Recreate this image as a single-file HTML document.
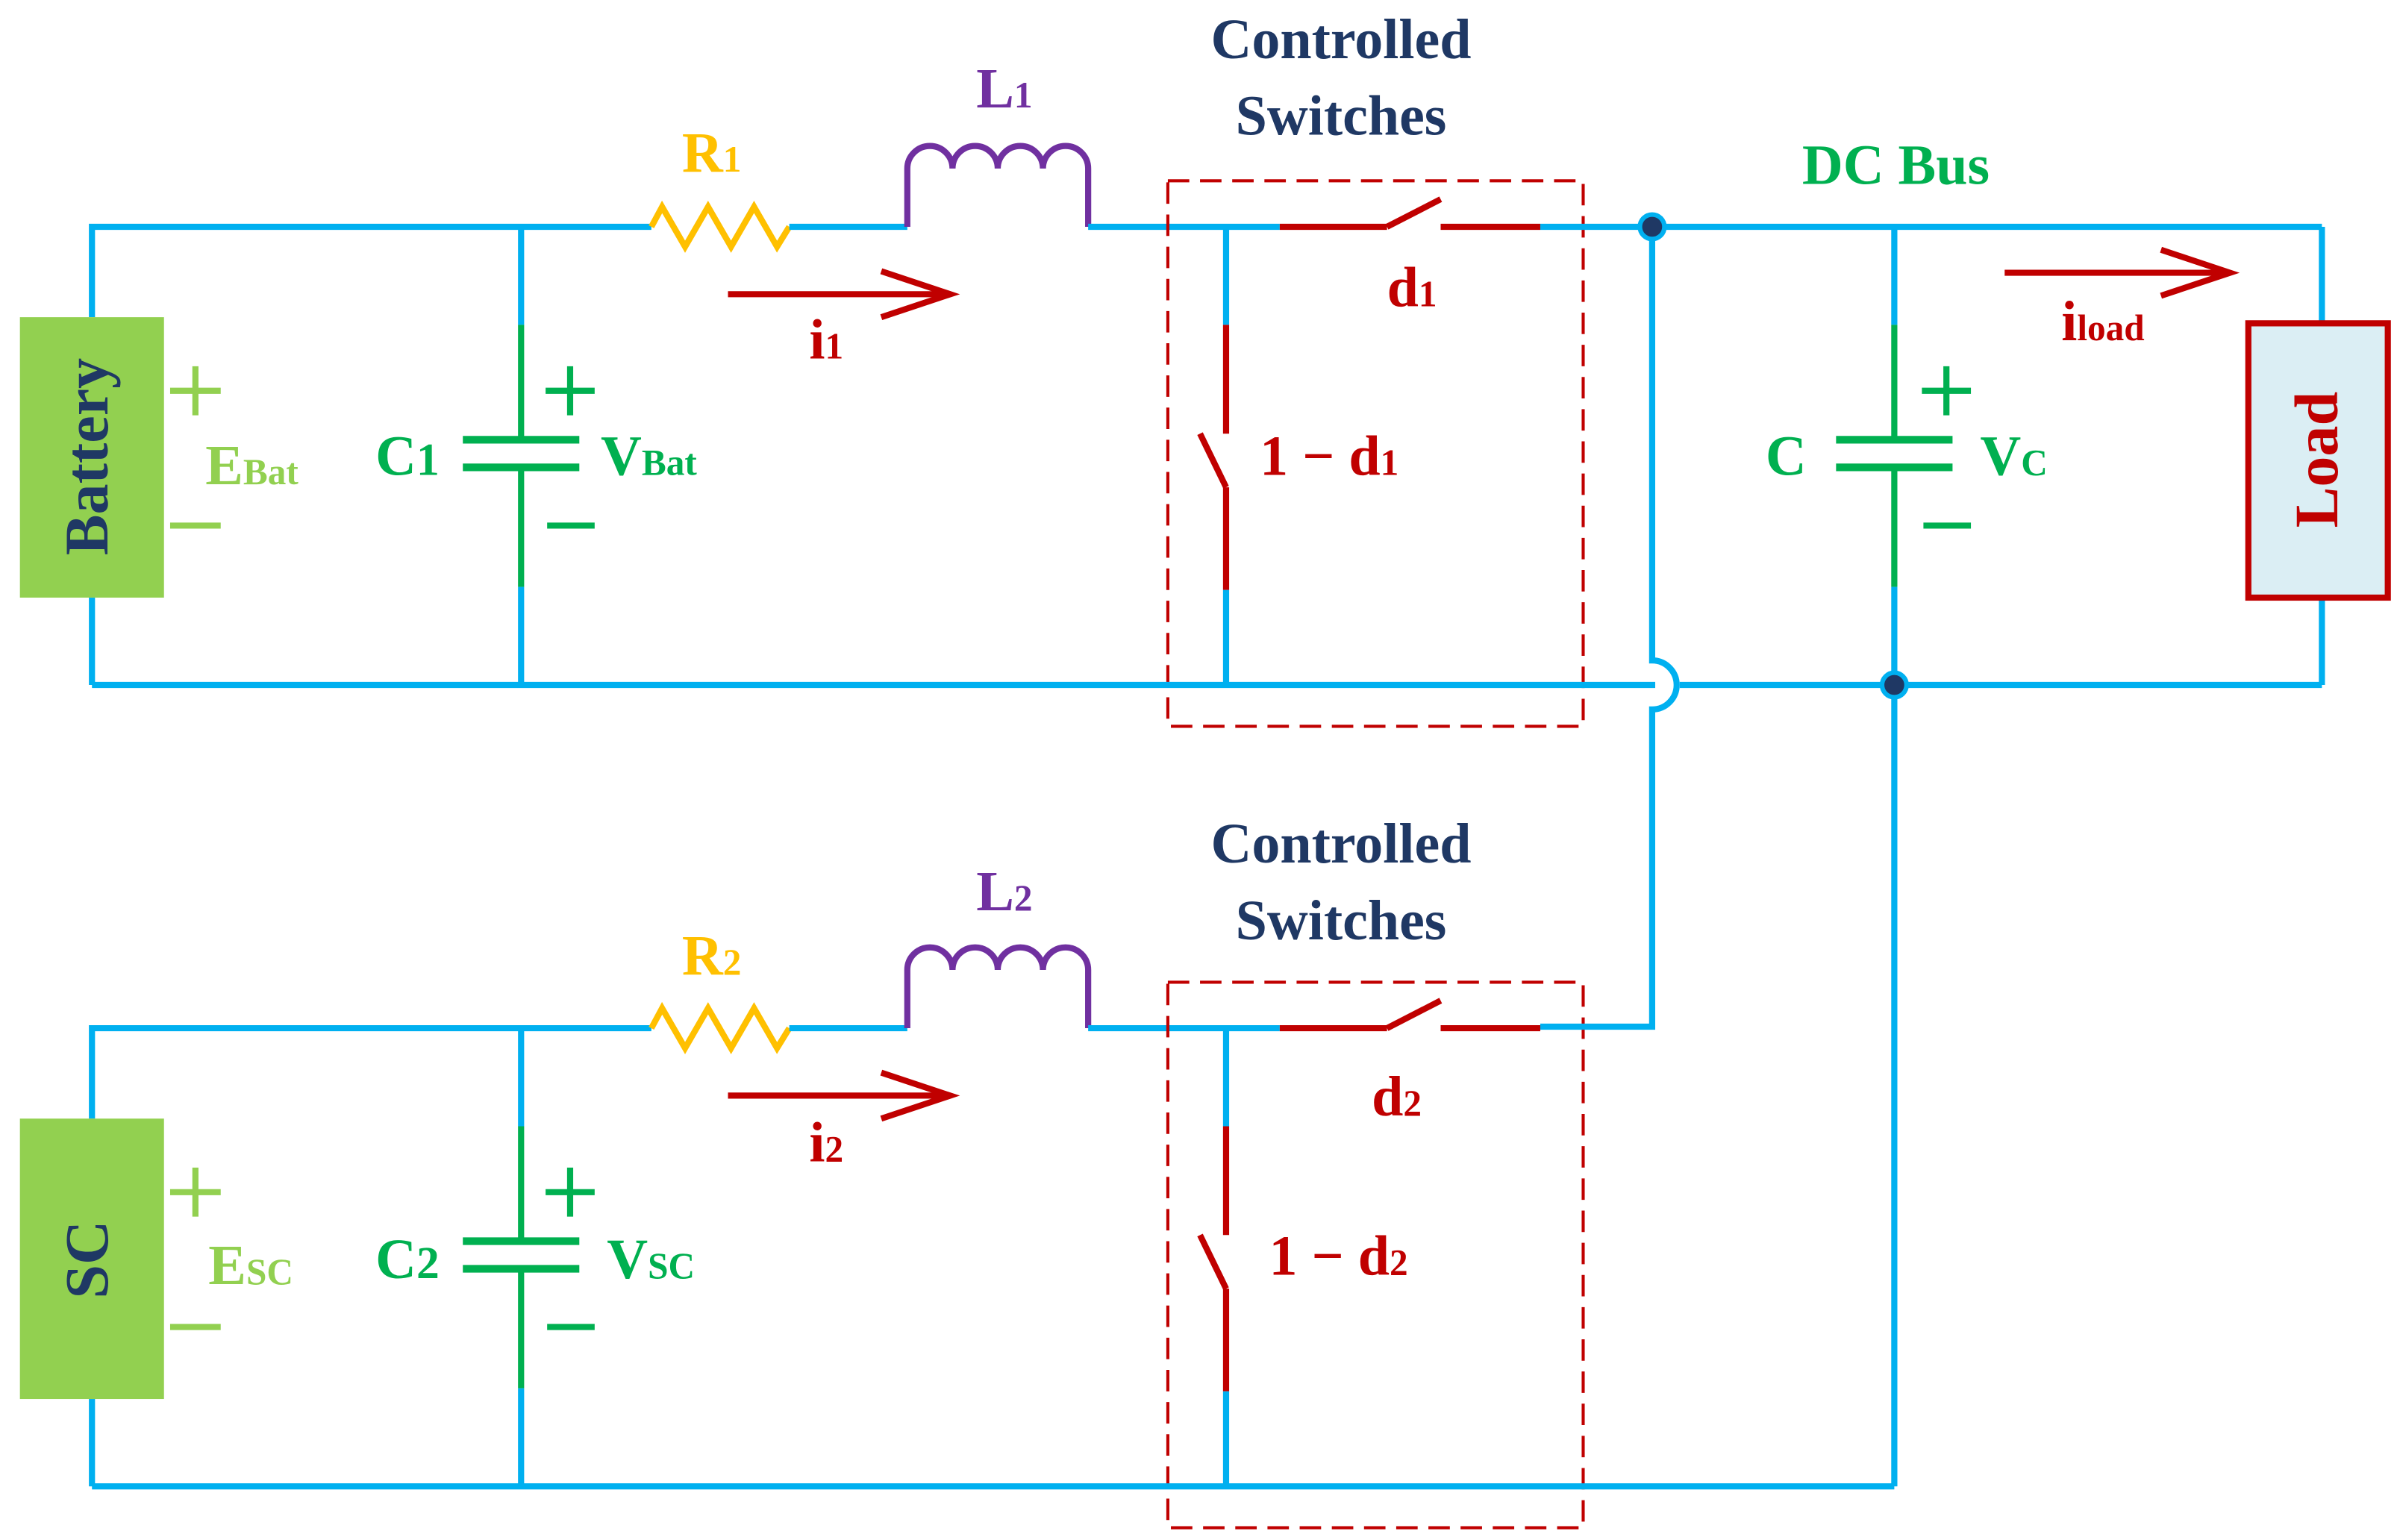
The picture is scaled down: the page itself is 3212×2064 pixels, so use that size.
<!DOCTYPE html>
<html><head><meta charset="utf-8"><style>
html,body{margin:0;padding:0;background:#fff;}
svg{display:block;}
text{font-family:"Liberation Serif",serif;font-weight:bold;}
</style></head><body>
<svg width="3212" height="2064" viewBox="0 0 1564 1005" xmlns="http://www.w3.org/2000/svg">
<defs>
<g id="circ">
  <polyline points="60,207 60,148 425,148" fill="none" stroke="#00b0f0" stroke-width="4"/>
  <polyline points="425,148 432,135 447,161 462,135 477,161 492,135 507,161 515,148" fill="none" stroke="#ffc000" stroke-width="4"/>
  <line x1="515" y1="148" x2="592" y2="148" stroke="#00b0f0" stroke-width="4"/>
  <path d="M592,148 V110 A14.75,14.75 0 0 1 621.5,110 A14.75,14.75 0 0 1 651,110 A14.75,14.75 0 0 1 680.5,110 A14.75,14.75 0 0 1 710,110 V148" fill="none" stroke="#7030a0" stroke-width="4"/>
  <line x1="710" y1="148" x2="835" y2="148" stroke="#00b0f0" stroke-width="4"/>
  <line x1="835" y1="148" x2="905" y2="148" stroke="#c00000" stroke-width="4"/>
  <line x1="905" y1="148" x2="940" y2="130" stroke="#c00000" stroke-width="4"/>
  <line x1="940" y1="148" x2="1005" y2="148" stroke="#c00000" stroke-width="4"/>
  <line x1="60" y1="390" x2="60" y2="447" stroke="#00b0f0" stroke-width="4"/>
  <line x1="340" y1="148" x2="340" y2="212" stroke="#00b0f0" stroke-width="4"/>
  <line x1="340" y1="212" x2="340" y2="287" stroke="#00b050" stroke-width="4"/>
  <line x1="302" y1="287" x2="378" y2="287" stroke="#00b050" stroke-width="5"/>
  <line x1="302" y1="305" x2="378" y2="305" stroke="#00b050" stroke-width="5"/>
  <line x1="340" y1="305" x2="340" y2="383" stroke="#00b050" stroke-width="4"/>
  <line x1="340" y1="383" x2="340" y2="447" stroke="#00b0f0" stroke-width="4"/>
  <path d="M356,255 H388 M372,239 V271" stroke="#00b050" stroke-width="4"/>
  <line x1="357" y1="343" x2="388" y2="343" stroke="#00b050" stroke-width="4"/>
  <line x1="111" y1="343" x2="144" y2="343" stroke="#92d050" stroke-width="4"/>
  <path d="M111,255 H144 M127.5,239 V271" stroke="#92d050" stroke-width="4"/>
  <line x1="800" y1="148" x2="800" y2="212" stroke="#00b0f0" stroke-width="4"/>
  <line x1="800" y1="212" x2="800" y2="283" stroke="#c00000" stroke-width="4"/>
  <line x1="783" y1="283" x2="800" y2="318" stroke="#c00000" stroke-width="4"/>
  <line x1="800" y1="318" x2="800" y2="385" stroke="#c00000" stroke-width="4"/>
  <line x1="800" y1="385" x2="800" y2="447" stroke="#00b0f0" stroke-width="4"/>
  <rect x="762" y="118" width="271" height="356" fill="none" stroke="#c00000" stroke-width="2" stroke-dasharray="14,7"/>
  <line x1="475" y1="192" x2="620" y2="192" stroke="#c00000" stroke-width="4"/>
  <polyline points="575,177 620,192 575,207" fill="none" stroke="#c00000" stroke-width="4"/>
</g>
</defs>
<use href="#circ"/>
<use href="#circ" transform="translate(0,523)"/>
<line x1="1005" y1="148" x2="1515" y2="148" stroke="#00b0f0" stroke-width="4"/>
<polyline points="1515,148 1515,211" fill="none" stroke="#00b0f0" stroke-width="4"/>
<polyline points="1515,390 1515,447" fill="none" stroke="#00b0f0" stroke-width="4"/>
<line x1="60" y1="447" x2="1080" y2="447" stroke="#00b0f0" stroke-width="4"/>
<line x1="1096" y1="447" x2="1515" y2="447" stroke="#00b0f0" stroke-width="4"/>
<path d="M1078,148 V431 A16,16 0 0 1 1078,463 V670 H1005" fill="none" stroke="#00b0f0" stroke-width="4"/>
<line x1="1236" y1="148" x2="1236" y2="212" stroke="#00b0f0" stroke-width="4"/>
<line x1="1236" y1="212" x2="1236" y2="287" stroke="#00b050" stroke-width="4"/>
<line x1="1198" y1="287" x2="1274" y2="287" stroke="#00b050" stroke-width="5"/>
<line x1="1198" y1="305" x2="1274" y2="305" stroke="#00b050" stroke-width="5"/>
<line x1="1236" y1="305" x2="1236" y2="383" stroke="#00b050" stroke-width="4"/>
<line x1="1236" y1="383" x2="1236" y2="970" stroke="#00b0f0" stroke-width="4"/>
<line x1="60" y1="970" x2="1236" y2="970" stroke="#00b0f0" stroke-width="4"/>
<path d="M1254,255 H1286 M1270,239 V271" stroke="#00b050" stroke-width="4"/>
<line x1="1255" y1="343" x2="1286" y2="343" stroke="#00b050" stroke-width="4"/>
<circle cx="1078" cy="148" r="8" fill="#1f3864" stroke="#00b0f0" stroke-width="3"/>
<circle cx="1236" cy="447" r="8" fill="#1f3864" stroke="#00b0f0" stroke-width="3"/>
<line x1="1308" y1="178" x2="1455" y2="178" stroke="#c00000" stroke-width="4"/>
<polyline points="1410,163 1455,178 1410,193" fill="none" stroke="#c00000" stroke-width="4"/>
<rect x="13" y="207" width="94" height="183" fill="#92d050"/>
<rect x="13" y="730" width="94" height="183" fill="#92d050"/>
<rect x="1467" y="211" width="91" height="179" fill="#dbeef4" stroke="#c00000" stroke-width="4"/>
<text transform="translate(70,298) rotate(-90)" font-size="40" fill="#1f3864" text-anchor="middle">Battery</text>
<text transform="translate(70,822) rotate(-90)" font-size="40" fill="#1f3864" text-anchor="middle">SC</text>
<text transform="translate(1525,300) rotate(-90)" font-size="40" fill="#c00000" text-anchor="middle">Load</text>
<g font-size="37">
<text x="875" y="38" fill="#1f3864" text-anchor="middle">Controlled</text>
<text x="875" y="88" fill="#1f3864" text-anchor="middle">Switches</text>
<text x="875" y="563" fill="#1f3864" text-anchor="middle">Controlled</text>
<text x="875" y="613" fill="#1f3864" text-anchor="middle">Switches</text>
<text x="1237" y="120" fill="#00b050" text-anchor="middle">DC Bus</text>
<text x="637" y="70" fill="#7030a0">L<tspan font-size="24">1</tspan></text>
<text x="637" y="594" fill="#7030a0">L<tspan font-size="24">2</tspan></text>
<text x="445" y="112" fill="#ffc000">R<tspan font-size="24">1</tspan></text>
<text x="445" y="636" fill="#ffc000">R<tspan font-size="24">2</tspan></text>
<text x="528" y="234" fill="#c00000">i<tspan font-size="24">1</tspan></text>
<text x="528" y="758" fill="#c00000">i<tspan font-size="24">2</tspan></text>
<text x="905" y="200" fill="#c00000">d<tspan font-size="24">1</tspan></text>
<text x="895" y="728" fill="#c00000">d<tspan font-size="24">2</tspan></text>
<text x="822" y="310" fill="#c00000">1 − d<tspan font-size="24">1</tspan></text>
<text x="828" y="832" fill="#c00000">1 − d<tspan font-size="24">2</tspan></text>
<text x="1345" y="222" fill="#c00000">i<tspan font-size="24">load</tspan></text>
<text x="245" y="310" fill="#00b050">C<tspan font-size="30">1</tspan></text>
<text x="245" y="834" fill="#00b050">C<tspan font-size="30">2</tspan></text>
<text x="392" y="310" fill="#00b050">V<tspan font-size="24">Bat</tspan></text>
<text x="396" y="834" fill="#00b050">V<tspan font-size="24">SC</tspan></text>
<text x="1152" y="310" fill="#00b050">C</text>
<text x="1292" y="310" fill="#00b050">V<tspan font-size="24">C</tspan></text>
<text x="134" y="316" fill="#92d050">E<tspan font-size="24">Bat</tspan></text>
<text x="136" y="838" fill="#92d050">E<tspan font-size="24">SC</tspan></text>
</g>
</svg>
</body></html>
